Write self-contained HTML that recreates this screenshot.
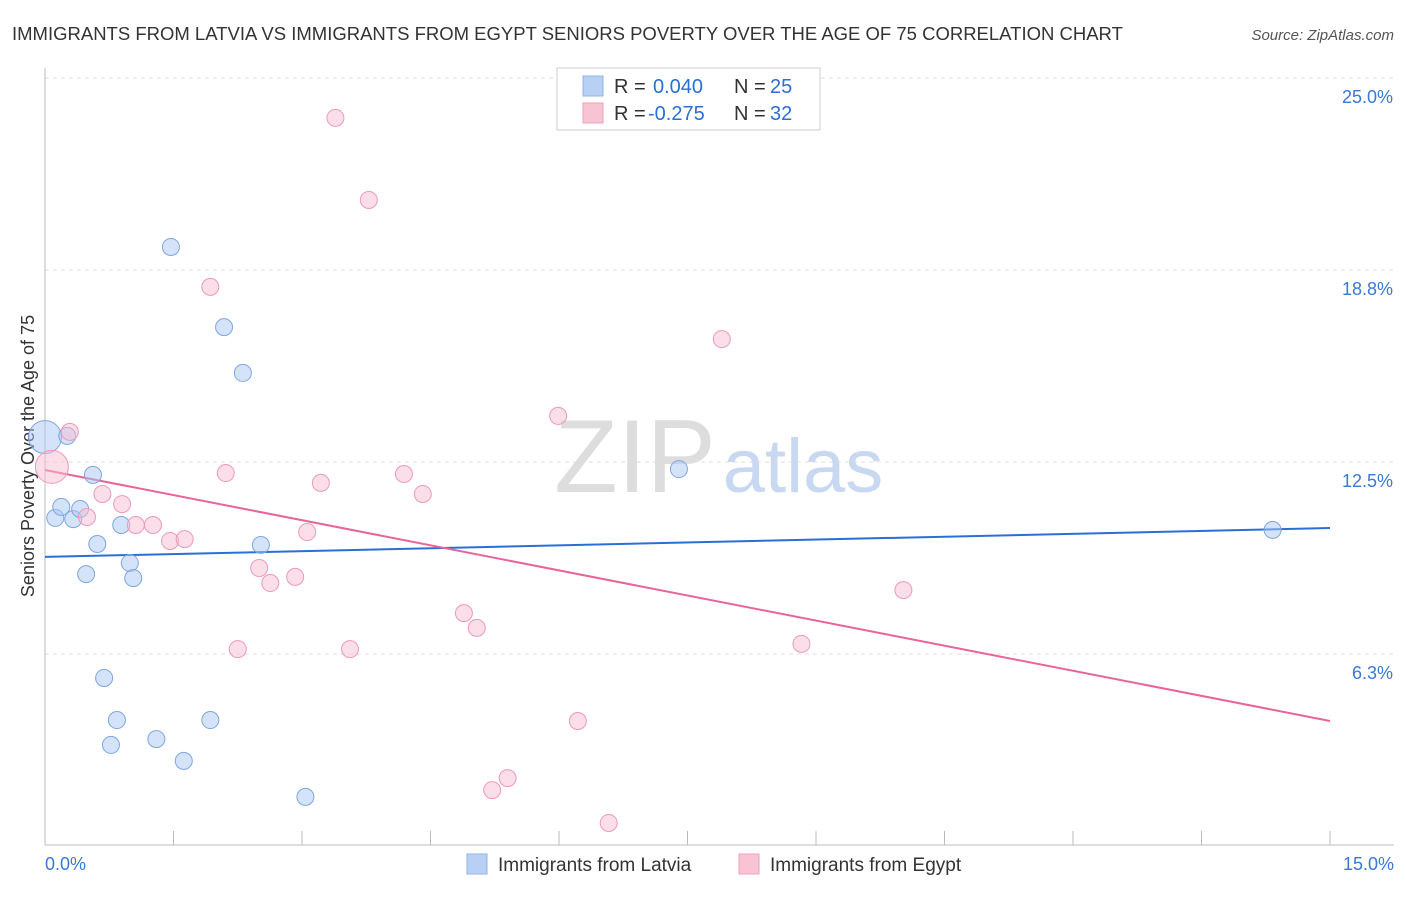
<!DOCTYPE html>
<html><head><meta charset="utf-8"><style>
body{margin:0;background:#fff;font-family:"Liberation Sans",sans-serif;}
svg text{font-family:"Liberation Sans",sans-serif;}
</style></head><body>
<svg id="chart" width="1406" height="892" xmlns="http://www.w3.org/2000/svg">
<text x="12" y="40" font-size="18.5" fill="#333">IMMIGRANTS FROM LATVIA VS IMMIGRANTS FROM EGYPT SENIORS POVERTY OVER THE AGE OF 75 CORRELATION CHART</text>
<text x="1394" y="40" font-size="15" fill="#555" font-style="italic" text-anchor="end">Source: ZipAtlas.com</text>
<text transform="translate(34,456) rotate(-90)" font-size="18" fill="#333" text-anchor="middle">Seniors Poverty Over the Age of 75</text>
<g>
<text x="635" y="492" font-size="104" fill="#ddd" text-anchor="middle" font-family="Liberation Serif">ZIP</text>
<text x="803" y="492" font-size="76" fill="#c8d8f0" text-anchor="middle">atlas</text>
</g>
<g id="grid"></g><g id="axes"></g><g id="trends"></g><g id="pts"></g>
<g>
<rect x="557" y="68" width="263" height="62" fill="#fff" stroke="#ccc"/>
<rect x="583" y="76" width="20" height="20" fill="#b8d0f4" stroke="#8fb3e8"/>
<text x="614" y="93" font-size="20" fill="#333">R = </text><text x="653" y="93" font-size="20" fill="#2a6fd6">0.040</text>
<text x="734" y="93" font-size="20" fill="#333">N = </text><text x="770" y="93" font-size="20" fill="#2a6fd6">25</text>
<rect x="583" y="103" width="20" height="20" fill="#f8c4d4" stroke="#f0a0b8"/>
<text x="614" y="120" font-size="20" fill="#333">R = </text><text x="648" y="120" font-size="20" fill="#2a6fd6">-0.275</text>
<text x="734" y="120" font-size="20" fill="#333">N = </text><text x="770" y="120" font-size="20" fill="#2a6fd6">32</text>
</g>
<g>
<rect x="467" y="854" width="20" height="20" fill="#b8d0f4" stroke="#8fb3e8"/>
<text x="498" y="871" font-size="19" fill="#333">Immigrants from Latvia</text>
<rect x="739" y="854" width="20" height="20" fill="#f8c4d4" stroke="#f0a0b8"/>
<text x="770" y="871" font-size="19" fill="#333">Immigrants from Egypt</text>
</g>
<text x="45" y="870" font-size="18" fill="#3a78d8">0.0%</text>
<text x="1394" y="870" font-size="18" fill="#3a78d8" text-anchor="end">15.0%</text>
</svg>
<script>
const yTicks=[25,18.75,12.5,6.25];
const yTickLabels=["25.0%","18.8%","12.5%","6.3%"];
const latviaX=[0.00,0.12,0.19,0.26,0.33,0.41,0.48,0.56,0.61,0.69,0.77,0.84,0.89,0.99,1.03,1.30,1.47,1.62,1.93,2.09,2.31,2.52,3.04,7.40,14.33];
const latviaY=[13.31,10.68,11.04,13.35,10.64,10.97,8.85,12.08,9.83,5.47,3.29,4.10,10.45,9.21,8.72,3.48,19.50,2.77,4.10,16.89,15.40,9.80,1.60,12.27,10.29];
const egyptX=[0.08,0.29,0.49,0.67,0.90,1.06,1.26,1.46,1.63,1.93,2.11,2.25,2.50,2.63,2.92,3.06,3.22,3.39,3.56,3.78,4.19,4.41,4.89,5.04,5.22,5.40,5.99,6.22,6.58,7.90,8.83,10.02];
const egyptY=[12.34,13.48,10.71,11.46,11.13,10.45,10.45,9.93,9.99,18.20,12.14,6.41,9.05,8.56,8.76,10.22,11.82,23.70,6.41,21.03,12.11,11.46,7.58,7.10,1.82,2.21,14.00,4.07,0.75,16.50,6.58,8.33];
const latviaTrend=[9.41,10.35];
const egyptTrend=[12.24,4.07];
const NS="http://www.w3.org/2000/svg";
const xs=v=>45+v*(1285/15);
const ys=v=>846-v*30.72;
function mk(tag,attrs,parent){const e=document.createElementNS(NS,tag);for(const k in attrs)e.setAttribute(k,attrs[k]);document.getElementById(parent).appendChild(e);return e;}
yTicks.forEach((t,i)=>{
 const l=mk('line',{x1:45,x2:1394,y1:ys(t),y2:ys(t),stroke:'#ddd','stroke-dasharray':'4,4'},'grid');
 
 
 const tx=mk('text',{x:1393,y:ys(t)+25,'font-size':18,fill:'#3a78d8','text-anchor':'end'},'grid');
 tx.textContent=yTickLabels[i];
 
 
});
const ax=mk('line',{x1:45,x2:45,y1:68,y2:845,stroke:'#bbb'},'axes');


const bx=mk('line',{x1:45,x2:1394,y1:845,y2:845,stroke:'#bbb'},'axes');


for(let i=0;i<=10;i++){const v=i*1.5;
 const t=mk('line',{x1:xs(v),x2:xs(v),y1:831,y2:845,stroke:'#bbb'},'axes');
 
 
}
function trend(tr,col,name){const l=mk('line',{x1:xs(0),x2:xs(15),y1:ys(tr[0]),y2:ys(tr[1]),stroke:col,'stroke-width':2},'trends');
 
 }
trend(latviaTrend,'#2a6fd6','latvia-trend-line');
trend(egyptTrend,'#e8649a','egypt-trend-line');
function pts(X,Y,fill,stroke,name){X.forEach((x,i)=>{const r=(i===0)?16.5:8.5;
 const c=mk('circle',{cx:xs(x),cy:ys(Y[i]),r:r,fill:fill,stroke:stroke,'stroke-width':1},'pts');
 
 });}
pts(latviaX,latviaY,'rgba(170,200,245,0.5)','#7fa6e0','latvia-point');
pts(egyptX,egyptY,'rgba(248,190,210,0.5)','#ee9ab5','egypt-point');
</script>
</body></html>
